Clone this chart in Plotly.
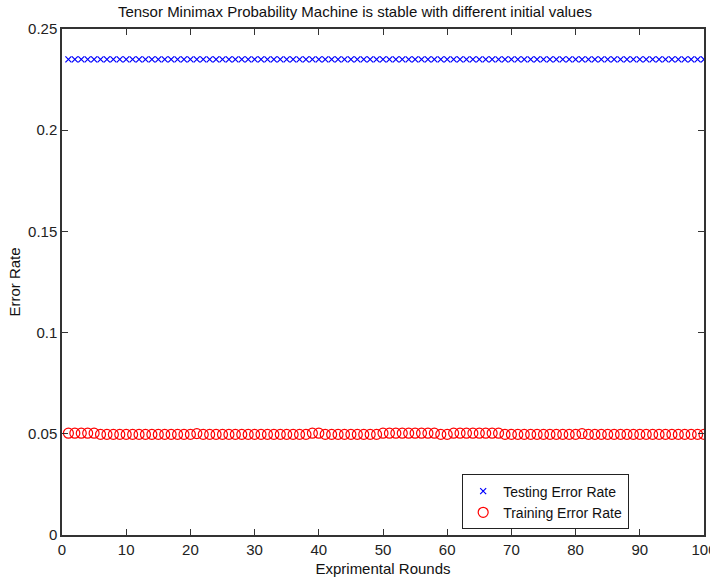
import plotly.graph_objects as go

rounds = list(range(1, 101))
testing_error = [0.235] * 100
training_error = [
    0.0503, 0.0503, 0.0503, 0.0503, 0.0503, 0.0497, 0.0497, 0.0497, 0.0497, 0.0497,
    0.0497, 0.0497, 0.0497, 0.0497, 0.0497, 0.0497, 0.0497, 0.0497, 0.0497, 0.0497,
    0.0501, 0.0497, 0.0497, 0.0497, 0.0497, 0.0497, 0.0497, 0.0497, 0.0497, 0.0497,
    0.0497, 0.0497, 0.0497, 0.0497, 0.0497, 0.0497, 0.0497, 0.0497, 0.0503, 0.0503,
    0.0497, 0.0497, 0.0497, 0.0497, 0.0497, 0.0497, 0.0497, 0.0497, 0.0497, 0.0503,
    0.0503, 0.0503, 0.0503, 0.0503, 0.0503, 0.0503, 0.0503, 0.0503, 0.0497, 0.0497,
    0.0503, 0.0503, 0.0503, 0.0503, 0.0503, 0.0503, 0.0503, 0.0503, 0.0497, 0.0497,
    0.0497, 0.0497, 0.0497, 0.0497, 0.0497, 0.0497, 0.0497, 0.0497, 0.0497, 0.0497,
    0.0501, 0.0497, 0.0497, 0.0497, 0.0497, 0.0497, 0.0497, 0.0497, 0.0497, 0.0497,
    0.0497, 0.0497, 0.0497, 0.0497, 0.0497, 0.0497, 0.0497, 0.0497, 0.0497, 0.0497,
]
x_ticks = [0, 10, 20, 30, 40, 50, 60, 70, 80, 90, 100]
y_ticks = [0, 0.05, 0.1, 0.15, 0.2, 0.25]
y_tick_labels = ["0", "0.05", "0.1", "0.15", "0.2", "0.25"]

FONT = "Liberation Sans, Arial, sans-serif"

fig = go.Figure()
fig.add_trace(go.Scatter(
    x=rounds, y=testing_error, mode="markers", name="Testing Error Rate",
    marker=dict(symbol="x-thin-open", size=6, line=dict(color="#0000ff", width=1.2), color="#0000ff"),
))
fig.add_trace(go.Scatter(
    x=rounds, y=training_error, mode="markers", name="Training Error Rate",
    marker=dict(symbol="circle-open", size=10, line=dict(color="#ff0000", width=1.2), color="#ff0000"),
))

axis_common = dict(
    showgrid=False, zeroline=False, showline=True, linecolor="#333333", linewidth=1.5,
    mirror="ticks", ticks="inside", ticklen=6, tickcolor="#333333", tickwidth=1.2,
    tickfont=dict(family=FONT, size=15, color="#222222"),
    automargin=False, ticklabeloverflow="allow",
)

fig.update_layout(
    width=710, height=580,
    margin=dict(l=62, r=6, t=29, b=45),
    paper_bgcolor="white", plot_bgcolor="white",
    title=dict(text="Tensor Minimax Probability Machine is stable with different initial values",
               x=0.5, xanchor="center", y=0.979, yanchor="middle", automargin=False,
               font=dict(family=FONT, size=15, color="#111111")),
    xaxis=dict(range=[0, 100], tickvals=x_ticks, ticktext=[str(v) for v in x_ticks],
               title=dict(text="Exprimental Rounds", standoff=7,
                          font=dict(family=FONT, size=15, color="#111111")),
               **axis_common),
    yaxis=dict(range=[0, 0.25], tickvals=y_ticks, ticktext=y_tick_labels,
               title=dict(text="Error Rate", standoff=4,
                          font=dict(family=FONT, size=15, color="#111111")),
               **axis_common),
    legend=dict(x=0.623, y=0.12, xanchor="left", yanchor="top",
                bordercolor="#222222", borderwidth=1.2, bgcolor="white",
                font=dict(family=FONT, size=14, color="#111111"),
                tracegroupgap=0, itemwidth=30),
    showlegend=True,
)

fig.write_html(
    "out.html",
    config={"displayModeBar": False},
    post_script="document.body.style.margin='0';document.body.style.padding='0';",
)
